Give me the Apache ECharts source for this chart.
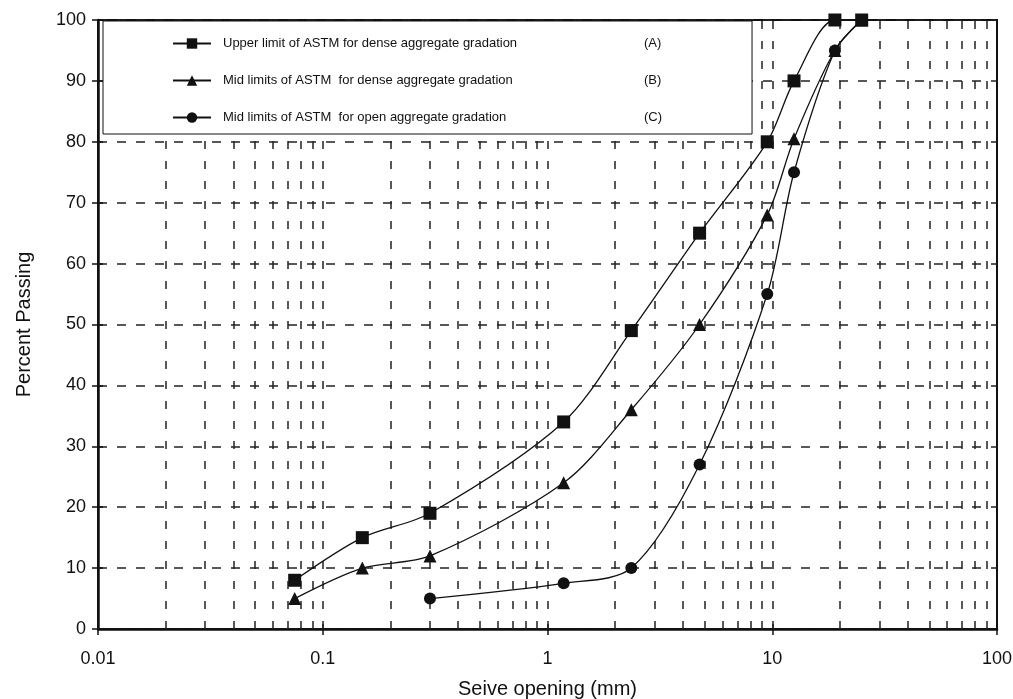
<!DOCTYPE html>
<html>
<head>
<meta charset="utf-8">
<script src="https://cdn.jsdelivr.net/npm/echarts@6/dist/echarts.min.js"></script>
<style>
  html, body { margin: 0; padding: 0; background: #fff; }
  #chart { width: 1013px; height: 699px; }
</style>
</head>
<body>
<div id="chart"></div>
<script>
// Sieve openings (mm) and percent passing for each gradation
const sieveSizes = [0.075, 0.15, 0.3, 1.18, 2.36, 4.75, 9.5, 12.5, 19, 25];
const upperDense = [8, 15, 19, 34, 49, 65, 80, 90, 100, 100];
const midDense = [5, 10, 12, 24, 36, 50, 68, 80.5, 95, 100];
const openSizes = [0.3, 1.18, 2.36, 4.75, 9.5, 12.5, 19, 25];
const midOpen = [5, 7.5, 10, 27, 55, 75, 95, 100];

const seriesNames = [
  'Upper limit of ASTM for dense aggregate gradation',
  'Mid limits of ASTM  for dense aggregate gradation',
  'Mid limits of ASTM  for open aggregate gradation'
];
const seriesTags = ['(A)', '(B)', '(C)'];
const seriesSymbols = ['rect', 'triangle', 'circle'];

// Log-scale grid: every 1..9 step inside each decade
const decades = [0.01, 0.1, 1, 10];
const decadeSteps = [1, 2, 3, 4, 5, 6, 7, 8, 9];
const verticalGrid = [];
decades.forEach(d => decadeSteps.forEach(m => {
  const v = +(d * m).toPrecision(3);
  if (v > 0.01) verticalGrid.push(v);
}));

const INK = '#111';
const FONT = 'Liberation Sans, Arial, sans-serif';

const pairs = (xs, ys) => xs.map((x, i) => [x, ys[i]]);

const chart = echarts.init(document.getElementById('chart'), null, { renderer: 'canvas' });

const curve = (idx, data) => ({
  name: seriesNames[idx],
  type: 'line',
  data: data,
  smooth: 0.3,
  symbol: seriesSymbols[idx],
  symbolSize: idx === 2 ? 12 : 13,
  showSymbol: true,
  z: 5,
  lineStyle: { color: INK, width: 1.3 },
  itemStyle: { color: INK },
  emphasis: { disabled: true }
});

chart.setOption({
  animation: false,
  backgroundColor: '#fff',
  textStyle: { fontFamily: FONT },
  grid: {
    left: 98, right: 16, top: 20, bottom: 70,
    containLabel: false,
    outerBoundsMode: 'none',
    show: true, borderColor: INK, borderWidth: 2, backgroundColor: 'transparent'
  },
  legend: {
    data: seriesNames,
    orient: 'vertical',
    left: 103, top: 21,
    z: 20,
    itemWidth: 38, itemHeight: 13, itemGap: 24,
    padding: [16, 90, 10, 69],
    backgroundColor: '#fff',
    borderColor: INK, borderWidth: 1,
    selectedMode: false,
    formatter: name => {
      const i = seriesNames.indexOf(name);
      return '{g| }{t|' + name + '}{k|' + seriesTags[i] + '}';
    },
    textStyle: {
      color: INK, fontSize: 13, fontFamily: FONT,
      rich: {
        g: { width: 7, fontSize: 13 },
        t: { width: 421, fontSize: 13, color: INK },
        k: { width: 30, fontSize: 13, color: INK }
      }
    }
  },
  xAxis: [
    {
      type: 'log', logBase: 10, min: 0.01, max: 100,
      name: 'Seive opening (mm)', nameLocation: 'middle', nameGap: 50,
      nameTextStyle: { fontSize: 20, color: INK, fontFamily: FONT },
      axisLine: { lineStyle: { color: INK, width: 2.5 } },
      axisTick: { show: true, length: 6, lineStyle: { color: INK, width: 1.5 } },
      axisLabel: { color: INK, fontSize: 18, margin: 21, formatter: v => String(+v.toPrecision(3)) },
      splitLine: { show: false },
      minorTick: { show: false }
    },
    {
      type: 'log', logBase: 10, min: 0.01, max: 100, position: 'bottom',
      axisLine: { show: false },
      axisTick: { show: true, inside: true, length: 5, lineStyle: { color: INK, width: 1.5 } },
      axisLabel: { show: false },
      splitLine: { show: false }
    }
  ],
  yAxis: [
    {
      type: 'value', min: 0, max: 100, interval: 10,
      name: 'Percent Passing', nameLocation: 'middle', nameGap: 64,
      nameTextStyle: { fontSize: 20, color: INK, fontFamily: FONT },
      axisLine: { show: true, lineStyle: { color: INK, width: 2.5 } },
      axisTick: { show: true, length: 6, lineStyle: { color: INK, width: 1.5 } },
      axisLabel: { color: INK, fontSize: 18, margin: 12 },
      splitLine: { show: true, lineStyle: { color: '#222', width: 1.5, type: [9, 10] } }
    },
    {
      type: 'value', min: 0, max: 100, interval: 10, position: 'left',
      axisLine: { show: false },
      axisTick: { show: true, inside: true, length: 5, lineStyle: { color: INK, width: 1.5 } },
      axisLabel: { show: false },
      splitLine: { show: false }
    }
  ],
  series: [
    {
      name: 'grid',
      type: 'line',
      data: [],
      silent: true,
      z: 1,
      markLine: {
        silent: true,
        symbol: ['none', 'none'],
        label: { show: false },
        lineStyle: { color: '#222', width: 1.5, type: [8, 12] },
        emphasis: { disabled: true },
        data: verticalGrid.map(v => ({ xAxis: v }))
      }
    },
    curve(0, pairs(sieveSizes, upperDense)),
    curve(1, pairs(sieveSizes, midDense)),
    curve(2, pairs(openSizes, midOpen))
  ]
});
</script>
</body>
</html>
